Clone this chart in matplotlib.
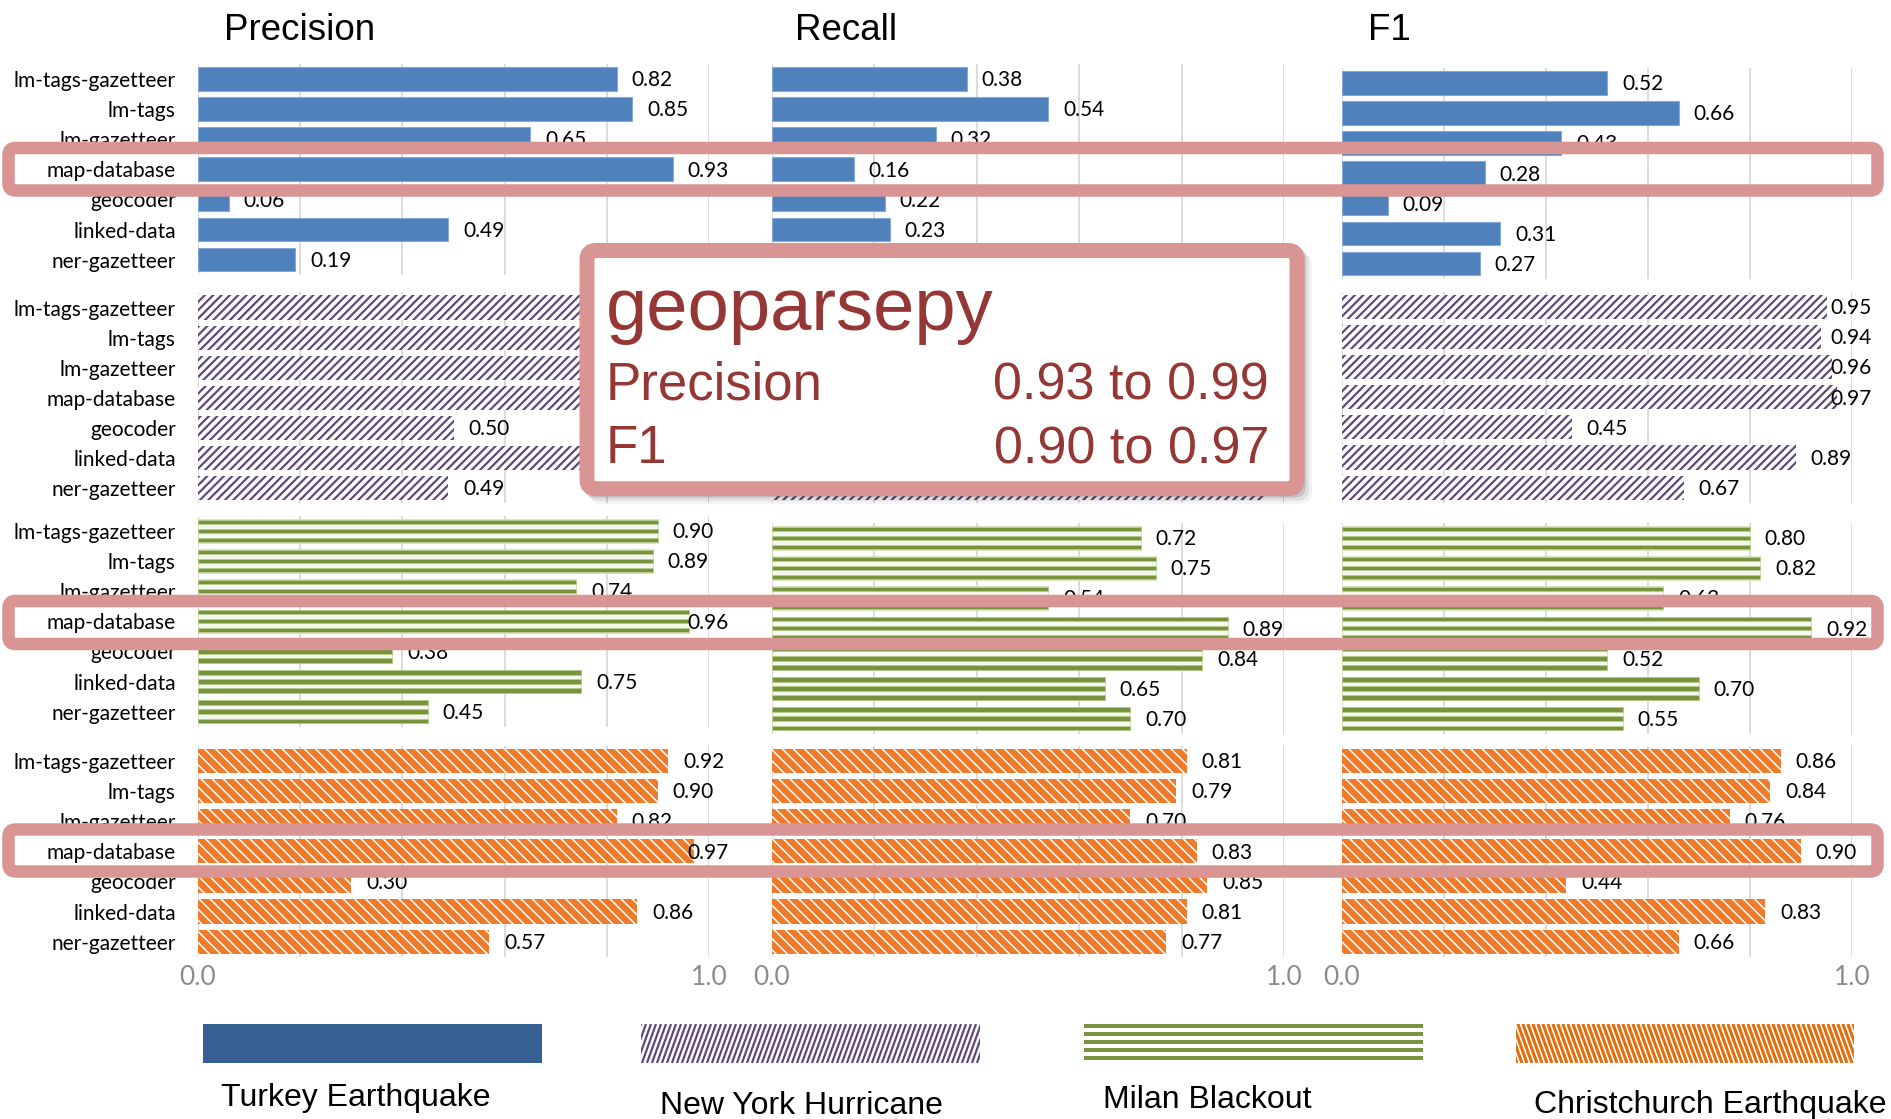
import numpy as np
import matplotlib
matplotlib.use("Agg")
import matplotlib.pyplot as plt
from matplotlib.patches import FancyBboxPatch, Rectangle

# ---- data -------------------------------------------------------------
methods = ["lm-tags-gazetteer", "lm-tags", "lm-gazetteer", "map-database",
           "geocoder", "linked-data", "ner-gazetteer"]
events = ["Turkey Earthquake", "New York Hurricane", "Milan Blackout",
          "Christchurch Earthquake"]
metrics = ["Precision", "Recall", "F1"]

turkey_precision = [0.82, 0.85, 0.65, 0.93, 0.06, 0.49, 0.19]
turkey_recall = [0.38, 0.54, 0.32, 0.16, 0.22, 0.23, 0.47]
turkey_f1 = [0.52, 0.66, 0.43, 0.28, 0.09, 0.31, 0.27]

ny_precision = [0.96, 0.95, 0.97, 0.99, 0.50, 0.93, 0.49]
ny_recall = [0.94, 0.93, 0.95, 0.95, 0.41, 0.85, 0.96]
ny_f1 = [0.95, 0.94, 0.96, 0.97, 0.45, 0.89, 0.67]

milan_precision = [0.90, 0.89, 0.74, 0.96, 0.38, 0.75, 0.45]
milan_recall = [0.72, 0.75, 0.54, 0.89, 0.84, 0.65, 0.70]
milan_f1 = [0.80, 0.82, 0.63, 0.92, 0.52, 0.70, 0.55]

chch_precision = [0.92, 0.90, 0.82, 0.97, 0.30, 0.86, 0.57]
chch_recall = [0.81, 0.79, 0.70, 0.83, 0.85, 0.81, 0.77]
chch_f1 = [0.86, 0.84, 0.76, 0.90, 0.44, 0.83, 0.66]

axis_tick_labels = ["0.0", "1.0"]
callout_title = "geoparsepy"
callout_metrics = ["Precision", "F1"]
callout_ranges = ["0.93 to 0.99", "0.90 to 0.97"]

scores = {
    events[0]: [turkey_precision, turkey_recall, turkey_f1],
    events[1]: [ny_precision, ny_recall, ny_f1],
    events[2]: [milan_precision, milan_recall, milan_f1],
    events[3]: [chch_precision, chch_recall, chch_f1],
}

# ---- layout (pixels) --------------------------------------------------
W, H = 1891, 1119
fig = plt.figure(figsize=(W / 100, H / 100), dpi=100)
fig.patch.set_facecolor("white")
plt.rcParams["hatch.linewidth"] = 1.6

LABEL_FONT = "Lato"
HEAD_FONT = "Liberation Sans"

col_x = [(198, 709), (772, 1284), (1342, 1852)]
first_row = [[79, 79, 83], [307.5, 307.5, 307], [531, 538, 538], [761, 761, 761]]
pitch = 30.1

# callout frame (centre line of its border, pixels)
bx0, by0, bx1, by1 = 587, 250.5, 1297, 488.7

BLUE = "#4F81BD"
PURPLE = "#5F497A"
GREEN = "#77933C"
ORANGE = "#EE7A2A"
PINK = "#D99594"
DARKRED = "#953735"


def fig_rect(x0, y0, x1, y1):
    return [x0 / W, 1 - y1 / H, (x1 - x0) / W, (y1 - y0) / H]


def under_callout(px, py):
    return (bx0 - 8 < px < bx1 + 8) and (by0 - 8 < py < by1 + 8)


def draw_bars(ax, vals, style, x0, x1, c0):
    y = np.arange(len(vals))
    if style == 0:
        ax.barh(y, vals, height=0.79, color=BLUE, edgecolor="#86a8d6",
                linewidth=0.8, zorder=2)
    elif style == 1:
        bars = ax.barh(y, vals, height=0.8, facecolor="white",
                       edgecolor=PURPLE, hatch="////", linewidth=0, zorder=2)
        for b in bars:
            if hasattr(b, "set_hatch_linewidth"):
                b.set_hatch_linewidth(1.6)
    elif style == 2:
        ax.barh(y, vals, height=0.78, facecolor="#f5f8ee",
                edgecolor="#d3e1b6", linewidth=0.6, zorder=2)
        for off in (-0.3, 0.0, 0.3):
            ax.barh(y + off, vals, height=0.14, color=GREEN,
                    edgecolor="#b9cf8c", linewidth=0.5, zorder=3)
    else:
        bars = ax.barh(y, vals, height=0.8, facecolor=ORANGE,
                       edgecolor="white", hatch="\\\\\\", linewidth=0,
                       zorder=2)
        for b in bars:
            if hasattr(b, "set_hatch_linewidth"):
                b.set_hatch_linewidth(1.1)
    for i, v in enumerate(vals):
        xpos = min(v + 0.029, 0.957)
        # labels sitting under the callout card are not visible; skip them
        if under_callout(x0 + (x1 - x0) * xpos + 20, c0 + i * pitch):
            continue
        ax.text(xpos, i + 0.04, f"{v:.2f}", ha="left",
                va="center", fontsize=15, family=LABEL_FONT, color="black",
                clip_on=False, zorder=4)


for g, ev in enumerate(events):
    for c, metric in enumerate(metrics):
        x0, x1 = col_x[c]
        c0 = first_row[g][c]
        ax = fig.add_axes(fig_rect(x0, c0 - pitch / 2, x1, c0 + 6.5 * pitch))
        ax.set_xlim(0, 1)
        ax.set_ylim(len(methods) - 0.5, -0.5)
        for s in ax.spines.values():
            s.set_visible(False)
        ax.set_xticks(np.linspace(0, 1, 6))
        ax.grid(axis="x", color="#d9d9d9", linewidth=1.3)
        ax.set_axisbelow(True)
        ax.tick_params(length=0)
        if g == len(events) - 1:
            ax.set_xticklabels([axis_tick_labels[0], "", "", "", "",
                                axis_tick_labels[1]])
            ax.tick_params(axis="x", pad=6, labelsize=19, labelcolor="#8c8c8c")
            for t in ax.get_xticklabels():
                t.set_family(LABEL_FONT)
        else:
            ax.set_xticklabels([])
        if c == 0:
            ax.set_yticks(np.arange(len(methods)))
            ax.set_yticklabels(methods, fontsize=15, family=LABEL_FONT)
            ax.tick_params(axis="y", pad=16)
        else:
            ax.set_yticks([])
        draw_bars(ax, scores[ev][c], g, x0, x1, c0)

# ---- overlay: titles, highlight rows, callout, legend -----------------
ov = fig.add_axes([0, 0, 1, 1])
ov.set_xlim(0, W)
ov.set_ylim(H, 0)
ov.axis("off")
ov.set_zorder(10)

for metric, xc in zip(metrics, [300, 846, 1389]):
    ov.text(xc, 31, metric, ha="center", va="center", fontsize=26.5,
            family=HEAD_FONT, color="black")

# map-database rows outlined
for (yt, yb) in [(148, 190.5), (601, 644), (829.5, 871.5)]:
    ov.add_patch(FancyBboxPatch((8.5, yt), 1869, yb - yt,
                                boxstyle="round,pad=0,rounding_size=7",
                                facecolor="none", edgecolor=PINK,
                                linewidth=9, zorder=5))

# callout card with soft drop shadow
for off, alpha in [(9, 0.05), (6, 0.08), (3, 0.12)]:
    ov.add_patch(FancyBboxPatch((bx0 + off, by0 + off), bx1 - bx0, by1 - by0,
                                boxstyle="round,pad=6,rounding_size=12",
                                facecolor="black", edgecolor="none",
                                alpha=alpha, zorder=6))
ov.add_patch(FancyBboxPatch((bx0, by0), bx1 - bx0, by1 - by0,
                            boxstyle="round,pad=0,rounding_size=9",
                            facecolor="white", edgecolor=PINK,
                            linewidth=10.8, zorder=7))
ov.text(606, 330, callout_title, ha="left", va="baseline", fontsize=53.5,
        family=HEAD_FONT, color=DARKRED, zorder=8)
for name, rng, yb in zip(callout_metrics, callout_ranges, [400, 463]):
    ov.text(606, yb, name, ha="left", va="baseline", fontsize=38,
            family=HEAD_FONT, color=DARKRED, zorder=8)
    ov.text(1269, yb, rng, ha="right", va="baseline", fontsize=37.5,
            family=HEAD_FONT, color=DARKRED, zorder=8)

# legend swatches
sw_x = [(203, 542), (641, 980), (1084, 1423), (1516, 1854)]
sw_y0, sw_y1 = 1024, 1063
text_pos = [(356, 1098), (801, 1106), (1207, 1100), (1710, 1105)]

ov.add_patch(Rectangle((sw_x[0][0], sw_y0), sw_x[0][1] - sw_x[0][0],
                       sw_y1 - sw_y0, facecolor="#376092", edgecolor="none"))


def steep_stripes(x0, x1, color, lw, step, lean):
    clip = Rectangle((x0, sw_y0), x1 - x0, sw_y1 - sw_y0, facecolor="white",
                     edgecolor="none")
    ov.add_patch(clip)
    dx = (sw_y1 - sw_y0) * lean
    for xs in np.arange(x0 - abs(dx) - step, x1 + abs(dx) + step, step):
        ln, = ov.plot([xs, xs + dx], [sw_y1, sw_y0], color=color, lw=lw,
                      solid_capstyle="butt")
        ln.set_clip_path(clip)


steep_stripes(*sw_x[1], PURPLE, 1.6, 5.0, 0.36)
steep_stripes(*sw_x[3], "#E46C0A", 2.2, 5.0, -0.36)

gx0, gx1 = sw_x[2]
for k in range(5):
    ov.add_patch(Rectangle((gx0, sw_y0 + k * 8), gx1 - gx0, 3.7,
                           facecolor=GREEN, edgecolor="none"))

for ev, (tx, ty) in zip(events, text_pos):
    ov.text(tx, ty, ev, ha="center", va="center", fontsize=23,
            family=HEAD_FONT, color="black")

fig.savefig("out.png", dpi=100, facecolor="white")
